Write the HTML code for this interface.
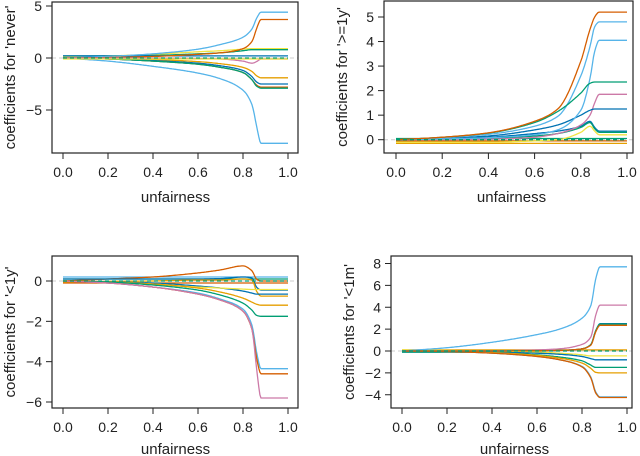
<!DOCTYPE html>
<html><head><meta charset="utf-8">
<style>
html,body{margin:0;padding:0;background:#fff;}
svg{display:block;font-family:"Liberation Sans",Arial,sans-serif;}
</style></head>
<body>
<svg id="chart" width="640" height="456" viewBox="0 0 640 456" xmlns="http://www.w3.org/2000/svg"></svg>
<script>
// shared x grid (unfairness)
const xs = [0, 0.2, 0.4, 0.6, 0.7, 0.8, 0.84, 0.86, 0.88, 1.0];
const xTicks = [0, 0.2, 0.4, 0.6, 0.8, 1.0];
const xTickLabels = ["0.0","0.2","0.4","0.6","0.8","1.0"];
const OR="#E69F00", SK="#56B4E9", GR="#009E73", YE="#F0E442", BL="#0072B2", VE="#D55E00", PI="#CC79A7";

// panel 1: never
const p1Colors = [YE, GR, BL, SK, VE, OR, BL, VE, GR, SK, PI, YE];
const p1Values = [
 [0.1,0.2,0.35,0.6,0.7,0.85,0.9,0.9,0.9,0.9],
 [0.2,0.2,0.25,0.4,0.5,0.7,0.8,0.8,0.8,0.8],
 [0.2,0.2,0.2,0.2,0.2,0.2,0.2,0.2,0.2,0.2],
 [0,0.15,0.4,0.85,1.3,2.0,2.8,3.8,4.4,4.4],
 [0,0.05,0.15,0.35,0.5,0.9,1.6,2.8,3.7,3.7],
 [0,-0.05,-0.15,-0.35,-0.55,-0.9,-1.3,-1.7,-1.9,-1.9],
 [0,-0.1,-0.25,-0.5,-0.75,-1.2,-1.8,-2.3,-2.5,-2.5],
 [0,-0.1,-0.3,-0.6,-0.9,-1.4,-2.1,-2.6,-2.8,-2.8],
 [0,-0.1,-0.3,-0.6,-0.9,-1.4,-2.1,-2.7,-2.9,-2.9],
 [0,-0.3,-0.8,-1.45,-2.0,-3.1,-4.5,-6.5,-8.2,-8.2],
 [0,0,0,-0.05,-0.1,-0.3,-0.5,-0.35,-0.1,-0.1],
 [-0.1,-0.1,-0.1,-0.1,-0.1,-0.1,-0.1,-0.1,-0.1,-0.1]
];
const p1YTicks = [-5, 0, 5];

// panel 2: >=1y
const p2Colors = [OR, VE, GR, BL, GR, YE, PI, BL, SK, SK, GR, VE];
const p2Values = [
 [-0.15,-0.15,-0.15,-0.15,-0.15,-0.15,-0.15,-0.15,-0.15,-0.15],
 [-0.05,-0.05,-0.05,-0.05,-0.05,-0.05,-0.05,-0.05,-0.05,-0.05],
 [0.05,0.05,0.05,0.05,0.05,0.05,0.05,0.05,0.05,0.05],
 [0,0.03,0.1,0.25,0.35,0.55,0.75,0.5,0.35,0.35],
 [0,0.02,0.06,0.15,0.25,0.5,0.7,0.45,0.3,0.3],
 [-0.1,-0.1,-0.1,-0.05,0,0.3,0.55,0.35,0.2,0.2],
 [0,0,0.02,0.1,0.25,0.6,1.0,1.5,1.85,1.85],
 [0,0.05,0.15,0.4,0.6,1.0,1.2,1.25,1.25,1.25],
 [0,0.03,0.08,0.2,0.4,1.2,2.5,3.6,4.05,4.05],
 [0,0.08,0.22,0.55,0.95,2.6,3.8,4.6,4.8,4.8],
 [0,0.1,0.27,0.7,1.15,1.9,2.3,2.35,2.35,2.35],
 [0,0.1,0.28,0.75,1.25,3.2,4.5,5.0,5.2,5.2]
];
const p2YTicks = [0,1,2,3,4,5];

// panel 3: <1y
const p3Colors = [SK, GR, VE, VE, BL, OR, BL, YE, OR, GR, SK, VE, PI];
const p3Values = [
 [0.2,0.2,0.2,0.2,0.2,0.2,0.2,0.2,0.2,0.2],
 [0.1,0.1,0.1,0.1,0.1,0.1,0.1,0.1,0.1,0.1],
 [-0.1,-0.1,-0.1,-0.1,-0.1,-0.1,-0.1,-0.1,-0.1,-0.1],
 [0,0.1,0.2,0.4,0.55,0.75,0.5,0.1,0,0],
 [0.1,0.1,0.1,0.1,0.12,0.2,0.15,-0.3,-0.45,-0.45],
 [-0.05,-0.02,0,0.05,0.05,0.1,0.05,-0.5,-0.75,-0.75],
 [0,-0.05,-0.1,-0.25,-0.35,-0.5,-0.6,-0.65,-0.65,-0.65],
 [0,-0.05,-0.15,-0.3,-0.35,-0.4,-0.42,-0.42,-0.42,-0.42],
 [0,-0.05,-0.15,-0.35,-0.55,-0.85,-1.05,-1.15,-1.2,-1.2],
 [0,-0.05,-0.2,-0.45,-0.7,-1.1,-1.45,-1.7,-1.75,-1.75],
 [0,-0.1,-0.3,-0.6,-0.9,-1.4,-2.2,-3.5,-4.35,-4.35],
 [0,-0.1,-0.3,-0.65,-0.95,-1.5,-2.4,-3.8,-4.6,-4.6],
 [0,-0.1,-0.3,-0.65,-0.95,-1.5,-2.4,-4.3,-5.8,-5.8]
];
const p3YTicks = [-6,-4,-2,0];

// panel 4: <1m
const p4Colors = [OR, YE, BL, GR, OR, SK, VE, SK, PI, BL, GR, VE];
const p4Values = [
 [0.1,0.1,0.1,0.1,0.1,0.1,0.1,0.1,0.1,0.1],
 [0.1,0.05,0,-0.1,-0.2,-0.35,-0.45,-0.45,-0.45,-0.45],
 [-0.1,-0.1,-0.12,-0.2,-0.3,-0.5,-0.7,-0.8,-0.8,-0.8],
 [-0.1,-0.1,-0.15,-0.35,-0.55,-0.9,-1.3,-1.5,-1.5,-1.5],
 [0,-0.05,-0.15,-0.4,-0.65,-1.1,-1.6,-1.95,-2.0,-2.0],
 [0,-0.05,-0.2,-0.5,-0.8,-1.4,-2.4,-3.7,-4.2,-4.2],
 [0,-0.05,-0.2,-0.5,-0.8,-1.45,-2.5,-3.8,-4.25,-4.25],
 [0,0.3,0.8,1.5,2.0,3.0,4.2,6.5,7.7,7.7],
 [0,0,0.02,0.1,0.2,0.6,1.3,3.2,4.2,4.2],
 [0,0,0,0.02,0.05,0.2,0.6,1.8,2.5,2.5],
 [0,0,0,0.02,0.05,0.2,0.6,1.8,2.45,2.45],
 [0,0,0,0.02,0.05,0.2,0.55,1.7,2.35,2.35]
];
const p4YTicks = [-4,-2,0,2,4,6,8];

const panels = [
 {name:"never", label:"coefficients for 'never'", box:[52,2,298,153], x0:63, x1:288, yv:[0,5], yp:[58,6], ticks:p1YTicks, colors:p1Colors, values:p1Values, xtY:202},
 {name:"ge-1y", label:"coefficients for '>=1y'", box:[384,1,633,153], x0:396, x1:627, yv:[0,5], yp:[139.7,17], ticks:p2YTicks, colors:p2Colors, values:p2Values, xtY:202},
 {name:"lt-1y", label:"coefficients for '<1y'", box:[52,256,298,408], x0:63, x1:288, yv:[0,-6], yp:[281,402], ticks:p3YTicks, colors:p3Colors, values:p3Values, xtY:454},
 {name:"lt-1m", label:"coefficients for '<1m'", box:[391,256,632,408], x0:402, x1:627, yv:[0,8], yp:[351,263.5], ticks:p4YTicks, colors:p4Colors, values:p4Values, xtY:454}
];

// monotone cubic interpolation (Fritsch-Carlson)
function monotone(x, y){
  const n=x.length, d=[], m=new Array(n);
  for(let i=0;i<n-1;i++) d.push((y[i+1]-y[i])/(x[i+1]-x[i]));
  m[0]=d[0]; m[n-1]=d[n-2];
  for(let i=1;i<n-1;i++){
    if(d[i-1]*d[i]<=0) m[i]=0;
    else { const w1=2*(x[i+1]-x[i])+(x[i]-x[i-1]), w2=(x[i+1]-x[i])+2*(x[i]-x[i-1]);
      m[i]=(w1+w2)/(w1/d[i-1]+w2/d[i]); }
  }
  return t=>{
    let i=0; while(i<n-2 && t>x[i+1]) i++;
    const h=x[i+1]-x[i], s=(t-x[i])/h;
    const h00=2*s*s*s-3*s*s+1, h10=s*s*s-2*s*s+s, h01=-2*s*s*s+3*s*s, h11=s*s*s-s*s;
    return h00*y[i]+h10*h*m[i]+h01*y[i+1]+h11*h*m[i+1];
  };
}

const NS="http://www.w3.org/2000/svg";
const svg=document.getElementById("chart");
function mk(tag, attrs, parent){
  const e=document.createElementNS(NS,tag);
  for(const k in attrs) e.setAttribute(k, attrs[k]);
  (parent||svg).appendChild(e);
  return e;
}
panels.forEach(p=>{
  const g=mk("g",{});
  
  
  const X=v=>p.x0+(p.x1-p.x0)*v;
  const Y=v=>p.yp[0]+(p.yp[1]-p.yp[0])*(v-p.yv[0])/(p.yv[1]-p.yv[0]);
  const [bx0,by0,bx1,by1]=p.box;
  const z=mk("line",{x1:bx0,x2:bx1,y1:Y(0),y2:Y(0),stroke:"#ccc","stroke-width":1,"stroke-dasharray":"4,3"},g);
  
  
  p.values.forEach((vals,i)=>{
    const f=monotone(xs, vals);
    const pts=[];
    for(let k=0;k<=200;k++){ const t=k/200; pts.push((k?"L":"M")+X(t).toFixed(1)+","+Y(f(t)).toFixed(1)); }
    const path=mk("path",{d:pts.join(" "),fill:"none",stroke:p.colors[i],"stroke-width":1.3,"stroke-linejoin":"round"},g);
    
    
  });
  const gd=mk("line",{x1:X(0),x2:X(1),y1:Y(0),y2:Y(0),stroke:GR,"stroke-width":1.3,"stroke-dasharray":"4,3"},g);
  
  
  const box=mk("rect",{x:bx0,y:by0,width:bx1-bx0,height:by1-by0,fill:"none",stroke:"#222","stroke-width":1.2},g);
  
  
  xTicks.forEach((t,i)=>{
    mk("line",{x1:X(t),x2:X(t),y1:by1,y2:by1+6,stroke:"#222"},g);
    const tx=mk("text",{x:X(t),y:by1+24,"text-anchor":"middle","font-size":14,fill:"#222"},g);
    tx.textContent=xTickLabels[i];
    
    
  });
  p.ticks.forEach(t=>{
    mk("line",{x1:bx0-6,x2:bx0,y1:Y(t),y2:Y(t),stroke:"#222"},g);
    const ty=mk("text",{x:bx0-10,y:Y(t)+5,"text-anchor":"end","font-size":14,fill:"#222"},g);
    ty.textContent=t<0?"\u2212"+(-t):String(t);
    
    
  });
  const xl=mk("text",{x:(p.x0+p.x1)/2,y:p.xtY,"text-anchor":"middle","font-size":15,fill:"#222"},g);
  xl.textContent="unfairness";
  
  
  const cy=(by0+by1)/2, cx=bx0-37;
  const yl=mk("text",{x:cx,y:cy,"text-anchor":"middle","font-size":15,fill:"#222",transform:`rotate(-90 ${cx} ${cy})`},g);
  yl.textContent=p.label;
  
  
});
</script>
</body></html>
